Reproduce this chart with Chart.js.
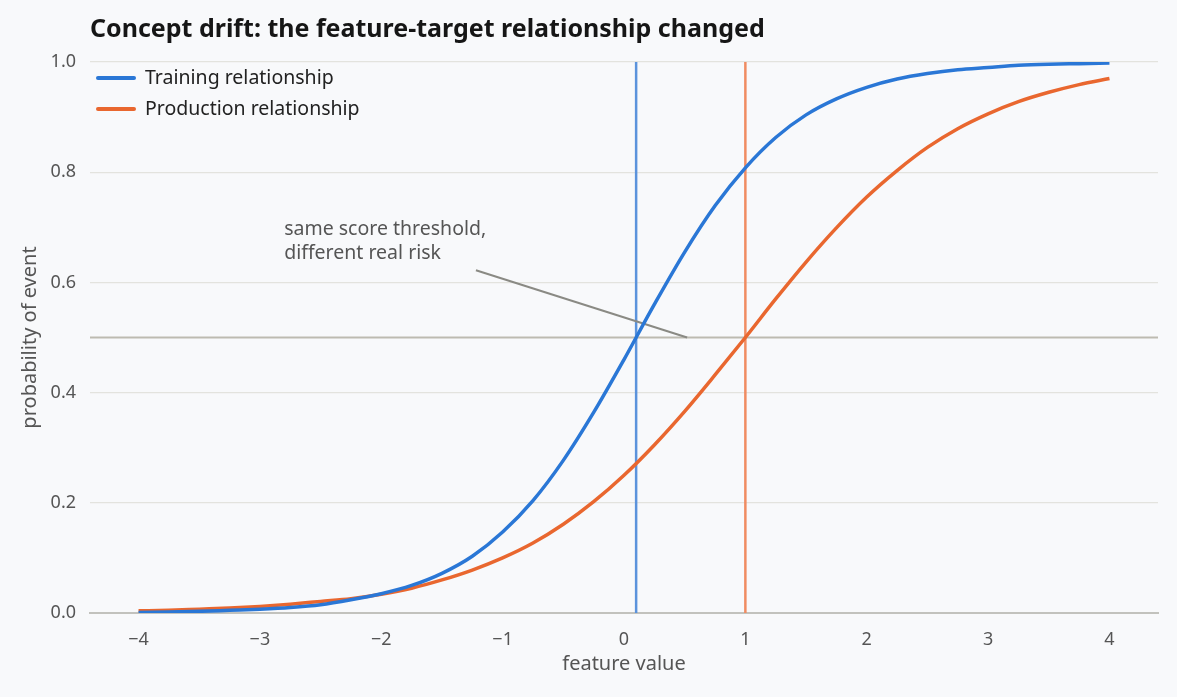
<!DOCTYPE html>
<html>
<head>
<meta charset="utf-8">
<script src="https://cdn.jsdelivr.net/npm/chart.js@4"></script>
<style>
  html, body { margin: 0; padding: 0; background: #f8f9fb; }
</style>
</head>
<body>
<canvas id="myChart" width="1177" height="697"></canvas>
<script>
// values
const featureValues = [-4, -3.75, -3.5, -3.25, -3, -2.75, -2.5, -2.25, -2, -1.75, -1.5, -1.25, -1, -0.75, -0.5, -0.25,
  0, 0.25, 0.5, 0.75, 1, 1.25, 1.5, 1.75, 2, 2.25, 2.5, 2.75, 3, 3.25, 3.5, 3.75, 4];
const trainingProb = [0.001, 0.002, 0.003, 0.005, 0.007, 0.010, 0.015, 0.024, 0.035, 0.050, 0.072, 0.103, 0.147, 0.204, 0.277, 0.364,
  0.460, 0.560, 0.655, 0.739, 0.808, 0.863, 0.904, 0.933, 0.954, 0.969, 0.979, 0.986, 0.990, 0.994, 0.996, 0.997, 0.998];
const productionProb = [0.004, 0.005, 0.007, 0.009, 0.012, 0.016, 0.021, 0.026, 0.034, 0.045, 0.060, 0.078, 0.100, 0.127, 0.161, 0.202,
  0.250, 0.305, 0.366, 0.432, 0.500, 0.570, 0.637, 0.699, 0.755, 0.803, 0.845, 0.879, 0.906, 0.928, 0.945, 0.959, 0.970];
const seriesNames = ["Training relationship", "Production relationship"];
const thresholdScore = 0.5;
const cutoffs = [0.1, 1.0];
const xTicks = [-4, -3, -2, -1, 0, 1, 2, 3, 4];
const yTicks = [0, 0.2, 0.4, 0.6, 0.8, 1.0];
const noteLines = ["same score threshold,", "different real risk"];
const noteFrom = { x: -1.22, y: 0.622 };
const noteTo = { x: 0.52, y: 0.5 };

const blue = "#2a77d6";
const orange = "#e9672f";
const font = '"Noto Sans", "Open Sans", sans-serif';

const toPoints = (ys) => featureValues.map((x, i) => ({ x: x, y: ys[i] }));

const extras = {
  id: "extras",
  beforeDraw(chart) {
    const c = chart.ctx;
    c.save();
    c.fillStyle = "#f8f9fb";
    c.fillRect(0, 0, chart.width, chart.height);
    c.restore();
  },
  afterDraw(chart) {
    const c = chart.ctx;
    const area = chart.chartArea;
    const xs = chart.scales.x;
    const ys = chart.scales.y;
    c.save();
    // title
    c.fillStyle = "#161616";
    c.font = "bold 25px " + font;
    c.textBaseline = "middle";
    c.textAlign = "left";
    c.fillText("Concept drift: the feature-target relationship changed", area.left, 30);

    // legend
    c.font = "19.5px " + font;
    [blue, orange].forEach((col, i) => {
      const y = area.top + 16 + i * 31;
      c.strokeStyle = col;
      c.lineWidth = 4;
      c.lineCap = "round";
      c.beginPath();
      c.moveTo(area.left + 8, y);
      c.lineTo(area.left + 44, y);
      c.stroke();
      c.fillStyle = "#222";
      c.fillText(seriesNames[i], area.left + 55, y);
    });

    // note
    c.fillStyle = "#555";
    c.font = "19.5px " + font;
    const nx = xs.getPixelForValue(-2.8);
    const ny = ys.getPixelForValue(0.697);
    noteLines.forEach((t, i) => c.fillText(t, nx, ny + i * 24));
    c.restore();
  }
};

new Chart(document.getElementById("myChart"), {
  type: "line",
  data: {
    datasets: [
      {
        label: seriesNames[0],
        data: toPoints(trainingProb),
        borderColor: blue,
        borderWidth: 3.5,
        pointRadius: 0,
        cubicInterpolationMode: "monotone",
        order: 0
      },
      {
        label: seriesNames[1],
        data: toPoints(productionProb),
        borderColor: orange,
        borderWidth: 3.5,
        pointRadius: 0,
        cubicInterpolationMode: "monotone",
        order: 0
      },
      {
        label: "threshold",
        data: [{ x: -4.4, y: thresholdScore }, { x: 4.4, y: thresholdScore }],
        borderColor: "#bdbbb1",
        borderWidth: 2,
        pointRadius: 0,
        order: 3
      },
      {
        label: "training cut",
        data: [{ x: cutoffs[0], y: 0 }, { x: cutoffs[0], y: 1 }],
        borderColor: "#5b93dc",
        borderWidth: 2.5,
        pointRadius: 0,
        order: 2
      },
      {
        label: "production cut",
        data: [{ x: cutoffs[1], y: 0 }, { x: cutoffs[1], y: 1 }],
        borderColor: "#f08c62",
        borderWidth: 2.5,
        pointRadius: 0,
        order: 2
      },
      {
        label: "pointer",
        data: [noteFrom, noteTo],
        borderColor: "#8a8a84",
        borderWidth: 2,
        pointRadius: 0,
        order: 1
      }
    ]
  },
  options: {
    responsive: false,
    animation: false,
    layout: { padding: { top: 62, right: 19, left: 0, bottom: 0 } },
    plugins: {
      legend: { display: false },
      tooltip: { enabled: false }
    },
    scales: {
      x: {
        type: "linear",
        min: -4.4,
        max: 4.4,
        afterBuildTicks: (s) => { s.ticks = xTicks.map((v) => ({ value: v })); },
        afterFit: (s) => { s.height = 84; },
        grid: { display: false },
        border: { display: true, color: "#c2c2bd", width: 2 },
        ticks: {
          padding: 8,
          color: "#555",
          font: { size: 18, family: font },
          callback: (v) => (v < 0 ? "\u2212" + Math.abs(v) : String(v))
        },
        title: {
          display: true,
          text: "feature value",
          color: "#555",
          font: { size: 20, family: font },
          padding: { top: 0, bottom: 21 }
        }
      },
      y: {
        min: 0,
        max: 1,
        afterBuildTicks: (s) => { s.ticks = yTicks.map((v) => ({ value: v })); },
        afterFit: (s) => { s.width = 90; },
        grid: {
          drawTicks: false,
          color: (ctx) => (ctx.tick.value === 0 ? "#c2c2bd" : "#e3e3de"),
          lineWidth: (ctx) => (ctx.tick.value === 0 ? 2 : 1.2)
        },
        border: { display: false },
        ticks: {
          padding: 14,
          color: "#555",
          font: { size: 18, family: font },
          callback: (v) => v.toFixed(1)
        },
        title: {
          display: true,
          text: "probability of event",
          color: "#555",
          font: { size: 20, family: font },
          padding: { top: 18, bottom: 0 }
        }
      }
    }
  },
  plugins: [extras]
});
</script>
</body>
</html>
